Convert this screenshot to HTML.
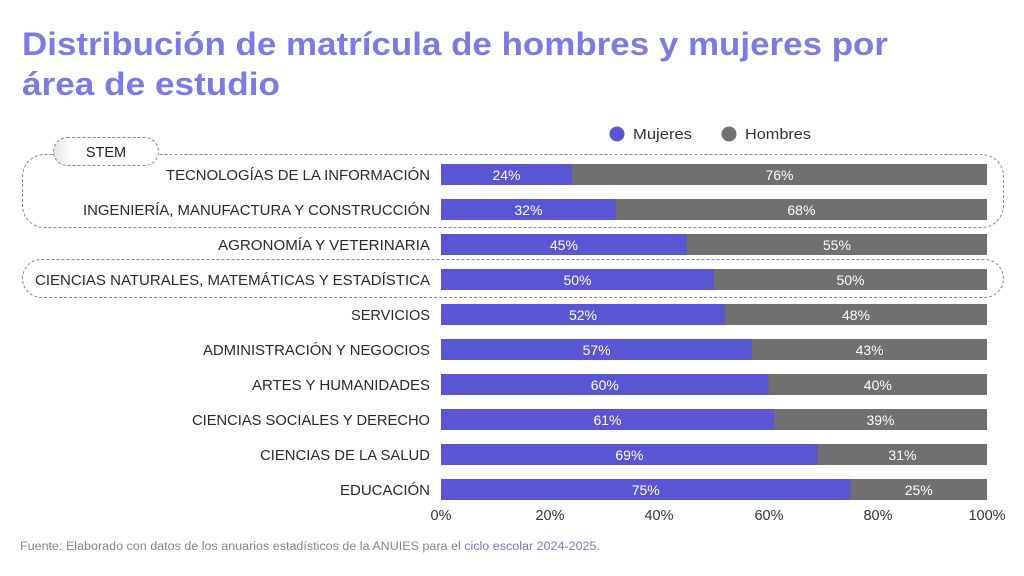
<!DOCTYPE html>
<html><head><meta charset="utf-8"><style>
html,body{margin:0;padding:0;background:#fff;}
svg{display:block;}
text{font-family:"Liberation Sans",sans-serif;}
</style></head><body>
<svg width="1024" height="576" viewBox="0 0 1024 576" xmlns="http://www.w3.org/2000/svg">
<defs>
<linearGradient id="pg" x1="0" x2="1" y1="0" y2="0">
<stop offset="0" stop-color="#e4e4e4"/><stop offset="0.18" stop-color="#ffffff"/><stop offset="1" stop-color="#ffffff"/>
</linearGradient>
</defs>
<rect width="1024" height="576" fill="#fff"/>
<!-- Title -->
<text x="22" y="55" font-size="32" font-weight="bold" fill="#7d7be3" textLength="866" lengthAdjust="spacingAndGlyphs">Distribución de matrícula de hombres y mujeres por</text>
<text x="22" y="95" font-size="32" font-weight="bold" fill="#7d7be3" textLength="258" lengthAdjust="spacingAndGlyphs">área de estudio</text>

<!-- Legend -->
<circle cx="617" cy="134" r="7.5" fill="#5a55d2"/>
<text x="633" y="139" font-size="15" fill="#333" textLength="59" lengthAdjust="spacingAndGlyphs">Mujeres</text>
<circle cx="729" cy="134" r="7.5" fill="#707070"/>
<text x="745" y="139" font-size="15" fill="#333" textLength="66" lengthAdjust="spacingAndGlyphs">Hombres</text>

<!-- STEM boxes -->
<rect x="22.5" y="154.5" width="981" height="73" rx="22" ry="22" fill="none" stroke="#8a8a8a" stroke-width="1" stroke-dasharray="3 2"/>
<rect x="22.5" y="259.5" width="981" height="38" rx="19" ry="19" fill="none" stroke="#8a8a8a" stroke-width="1" stroke-dasharray="3 2"/>
<rect x="53.5" y="137.5" width="105" height="28" rx="14" ry="14" fill="url(#pg)" stroke="#8a8a8a" stroke-width="1" stroke-dasharray="3 2"/>
<text x="106" y="157" font-size="14.5" fill="#222" text-anchor="middle">STEM</text>

<!-- Labels -->
<g font-size="14.5" fill="#2a2a2a" text-anchor="end">
<text x="430" y="180" textLength="264" lengthAdjust="spacingAndGlyphs">TECNOLOGÍAS DE LA INFORMACIÓN</text>
<text x="430" y="215" textLength="347" lengthAdjust="spacingAndGlyphs">INGENIERÍA, MANUFACTURA Y CONSTRUCCIÓN</text>
<text x="430" y="250" textLength="212" lengthAdjust="spacingAndGlyphs">AGRONOMÍA Y VETERINARIA</text>
<text x="430" y="285" textLength="395" lengthAdjust="spacingAndGlyphs">CIENCIAS NATURALES, MATEMÁTICAS Y ESTADÍSTICA</text>
<text x="430" y="320" textLength="79" lengthAdjust="spacingAndGlyphs">SERVICIOS</text>
<text x="430" y="355" textLength="227" lengthAdjust="spacingAndGlyphs">ADMINISTRACIÓN Y NEGOCIOS</text>
<text x="430" y="390" textLength="178" lengthAdjust="spacingAndGlyphs">ARTES Y HUMANIDADES</text>
<text x="430" y="425" textLength="238" lengthAdjust="spacingAndGlyphs">CIENCIAS SOCIALES Y DERECHO</text>
<text x="430" y="460" textLength="170" lengthAdjust="spacingAndGlyphs">CIENCIAS DE LA SALUD</text>
<text x="430" y="495" textLength="90" lengthAdjust="spacingAndGlyphs">EDUCACIÓN</text>
</g>

<!-- Bars -->
<g>
<rect x="441" y="164" width="546" height="21" fill="#707070"/><rect x="441" y="164" width="131.04" height="21" fill="#5a55d2"/>
<rect x="441" y="199" width="546" height="21" fill="#707070"/><rect x="441" y="199" width="174.72" height="21" fill="#5a55d2"/>
<rect x="441" y="234" width="546" height="21" fill="#707070"/><rect x="441" y="234" width="245.7" height="21" fill="#5a55d2"/>
<rect x="441" y="269" width="546" height="21" fill="#707070"/><rect x="441" y="269" width="273" height="21" fill="#5a55d2"/>
<rect x="441" y="304" width="546" height="21" fill="#707070"/><rect x="441" y="304" width="283.92" height="21" fill="#5a55d2"/>
<rect x="441" y="339" width="546" height="21" fill="#707070"/><rect x="441" y="339" width="311.22" height="21" fill="#5a55d2"/>
<rect x="441" y="374" width="546" height="21" fill="#707070"/><rect x="441" y="374" width="327.6" height="21" fill="#5a55d2"/>
<rect x="441" y="409" width="546" height="21" fill="#707070"/><rect x="441" y="409" width="333.06" height="21" fill="#5a55d2"/>
<rect x="441" y="444" width="546" height="21" fill="#707070"/><rect x="441" y="444" width="376.74" height="21" fill="#5a55d2"/>
<rect x="441" y="479" width="546" height="21" fill="#707070"/><rect x="441" y="479" width="409.5" height="21" fill="#5a55d2"/>
</g>

<!-- Bar value labels -->
<g font-size="14" fill="#ffffff" text-anchor="middle">
<text x="506.5" y="180">24%</text><text x="779.5" y="180">76%</text>
<text x="528.4" y="215">32%</text><text x="801.4" y="215">68%</text>
<text x="563.9" y="250">45%</text><text x="836.9" y="250">55%</text>
<text x="577.5" y="285">50%</text><text x="850.5" y="285">50%</text>
<text x="583" y="320">52%</text><text x="856" y="320">48%</text>
<text x="596.6" y="355">57%</text><text x="869.6" y="355">43%</text>
<text x="604.8" y="390">60%</text><text x="877.8" y="390">40%</text>
<text x="607.5" y="425">61%</text><text x="880.5" y="425">39%</text>
<text x="629.4" y="460">69%</text><text x="902.4" y="460">31%</text>
<text x="645.75" y="495">75%</text><text x="918.75" y="495">25%</text>
</g>

<!-- Axis -->
<g font-size="14.5" fill="#333" text-anchor="middle">
<text x="441" y="520">0%</text>
<text x="550" y="520">20%</text>
<text x="659" y="520">40%</text>
<text x="769" y="520">60%</text>
<text x="878" y="520">80%</text>
<text x="987" y="520">100%</text>
</g>

<!-- Footer -->
<text x="20" y="550" font-size="11.5" fill="#858585" textLength="580" lengthAdjust="spacingAndGlyphs">Fuente: Elaborado con datos de los anuarios estadísticos de la ANUIES para el <tspan fill="#7b78c4">ciclo escolar 2024-2025.</tspan></text>
</svg>
</body></html>
